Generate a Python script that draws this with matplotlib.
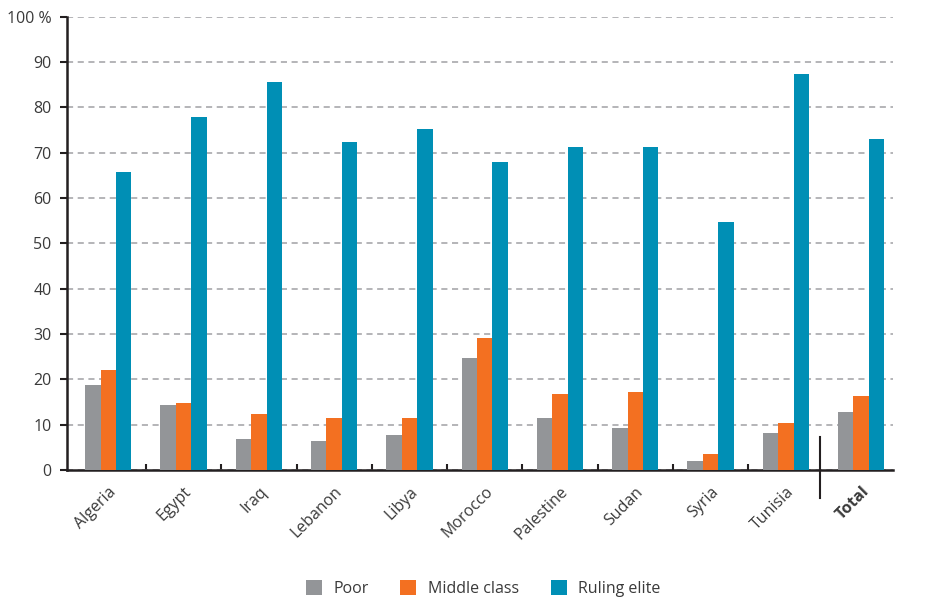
import numpy as np
import matplotlib.pyplot as plt

plt.rcParams['font.family'] = ['Open Sans', 'DejaVu Sans']

countries = ["Algeria", "Egypt", "Iraq", "Lebanon", "Libya", "Morocco",
             "Palestine", "Sudan", "Syria", "Tunisia", "Total"]
poor = [18.8, 14.3, 6.8, 6.4, 7.7, 24.7, 11.5, 9.3, 2.0, 8.2, 12.8]
middle = [22.0, 14.8, 12.4, 11.5, 11.5, 29.1, 16.8, 17.2, 3.5, 10.4, 16.3]
elite = [65.8, 78.0, 85.7, 72.4, 75.3, 68.0, 71.3, 71.3, 54.7, 87.4, 73.1]

colors = ["#939598", "#F37021", "#008FB5"]
labels = ["Poor", "Middle class", "Ruling elite"]

fig = plt.figure(figsize=(9.29, 6.01), dpi=100)
ax = fig.add_axes([0.072, 0.218, 0.889, 0.754])

x = np.arange(len(countries))
w = 0.205
for i, (vals, c, lab) in enumerate(zip([poor, middle, elite], colors, labels)):
    ax.bar(x + (i - 1) * w, vals, width=w, color=c, label=lab, zorder=3)

ax.set_xlim(-0.55, 10.42)
ax.set_ylim(0, 100)
ax.set_yticks(range(0, 101, 10))
ax.set_yticklabels([str(v) for v in range(0, 100, 10)] + ["100 %"])
ax.yaxis.grid(True, linestyle=(0, (4, 3)), color="#a0a1a4", linewidth=1.1, zorder=0)

for s in ["top", "right"]:
    ax.spines[s].set_visible(False)
for s in ["left", "bottom"]:
    ax.spines[s].set_color("#231f20")
    ax.spines[s].set_linewidth(1.8)

ax.tick_params(axis="y", direction="out", length=5, width=1.5, color="#231f20",
               labelsize=11.5, labelcolor="#3a3a3a", pad=6)
ax.set_xticks(x)
ax.set_xticklabels(countries, rotation=45, ha="right", rotation_mode="anchor",
                   fontsize=11.5, color="#3a3a3a")
ax.get_xticklabels()[-1].set_fontweight("bold")
ax.tick_params(axis="x", length=0, pad=10)

# small separators between groups
ax.set_xticks(np.arange(0.5, 9.5, 1), minor=True)
ax.tick_params(axis="x", which="minor", direction="in", length=4, width=1.5,
               color="#231f20")

# separator before Total
ax.plot([9.45, 9.45], [7.3, -6.2], color="#231f20", linewidth=1.5, clip_on=False, zorder=4)

fig.legend(loc="lower center", bbox_to_anchor=(0.52, -0.017), ncol=3, frameon=False,
           fontsize=11.5, handlelength=1.0, handleheight=1.0, columnspacing=2.0,
           handletextpad=0.7, labelcolor="#3a3a3a")

fig.savefig("out.png", dpi=100)
